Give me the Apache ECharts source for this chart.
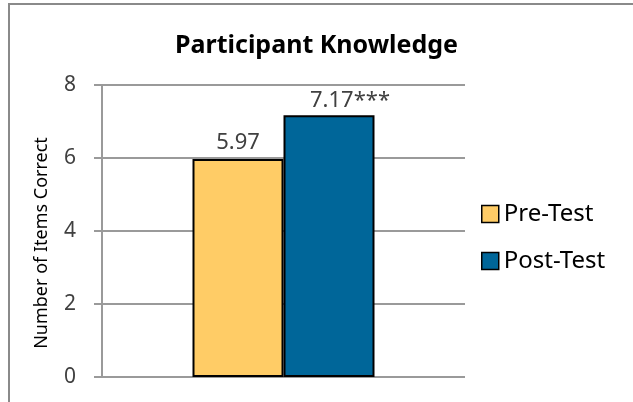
<!DOCTYPE html>
<html><head><meta charset="utf-8">
<script src="https://cdn.jsdelivr.net/npm/echarts@6/dist/echarts.min.js"></script>
<style>html,body{margin:0;padding:0;background:#fff}#c{width:633px;height:402px}</style>
</head><body><div id="c"></div>
<script>
const categories = ['Participant Knowledge'];
const seriesNames = ['Pre-Test', 'Post-Test'];
const preTest = [5.97];
const postTest = [7.17];
const labelTexts = ['5.97', '7.17***'];
const yTicks = [0, 2, 4, 6, 8];

const chart = echarts.init(document.getElementById('c'));
const font = '"Noto Sans", "Open Sans", sans-serif';
chart.setOption({
  animation: false,
  backgroundColor: '#fff',
  graphic: [{
    type: 'rect', shape: {x: 9, y: 4, width: 700, height: 500},
    style: {fill: 'none', stroke: '#8a8a8a', lineWidth: 2}, silent: true
  }],
  title: {
    text: 'Participant Knowledge', left: 'center', top: 28,
    textStyle: {fontFamily: font, fontWeight: 'bold', fontSize: 25, color: '#000'}
  },
  legend: {
    orient: 'vertical', left: 476, top: 197, itemGap: 23,
    itemWidth: 17, itemHeight: 17, icon: 'rect',
    itemStyle: {borderColor: '#000', borderWidth: 1.5},
    textStyle: {fontFamily: font, fontSize: 24, color: '#000', padding: [0,0,0,0]},
    data: seriesNames
  },
  grid: {left: 102, right: 168, top: 85, bottom: 25},
  xAxis: {
    type: 'category', data: categories,
    axisLine: {show: false}, axisTick: {show: false}, axisLabel: {show: false}
  },
  yAxis: {
    type: 'value', min: yTicks[0], max: yTicks[yTicks.length-1], interval: 2,
    name: 'Number of Items Correct', nameLocation: 'middle', nameGap: 51, nameRotate: 90,
    nameTextStyle: {fontFamily: font, fontSize: 18, color: '#000', padding: [0,0,0,-24]},
    axisLine: {show: true, lineStyle: {color: '#9a9a9a', width: 2}},
    axisTick: {show: true, length: 8, lineStyle: {color: '#9a9a9a', width: 2}},
    axisLabel: {fontFamily: font, fontSize: 21, color: '#404040', margin: 26},
    splitLine: {lineStyle: {color: '#9a9a9a', width: 2}}
  },
  series: [
    {
      name: seriesNames[0], type: 'bar', data: preTest, barWidth: 91, barGap: '0%',
      itemStyle: {color: '#FFCC66', borderColor: '#000', borderWidth: 2},
      label: {show: true, position: 'top', distance: 5, formatter: () => labelTexts[0],
        fontFamily: font, fontSize: 22, color: '#404040'}
    },
    {
      name: seriesNames[1], type: 'bar', data: postTest, barWidth: 91,
      itemStyle: {color: '#006699', borderColor: '#000', borderWidth: 2},
      label: {show: true, position: 'top', distance: 4, offset: [21, 0], formatter: () => labelTexts[1],
        fontFamily: font, fontSize: 22, color: '#404040'}
    }
  ]
});
</script></body></html>
